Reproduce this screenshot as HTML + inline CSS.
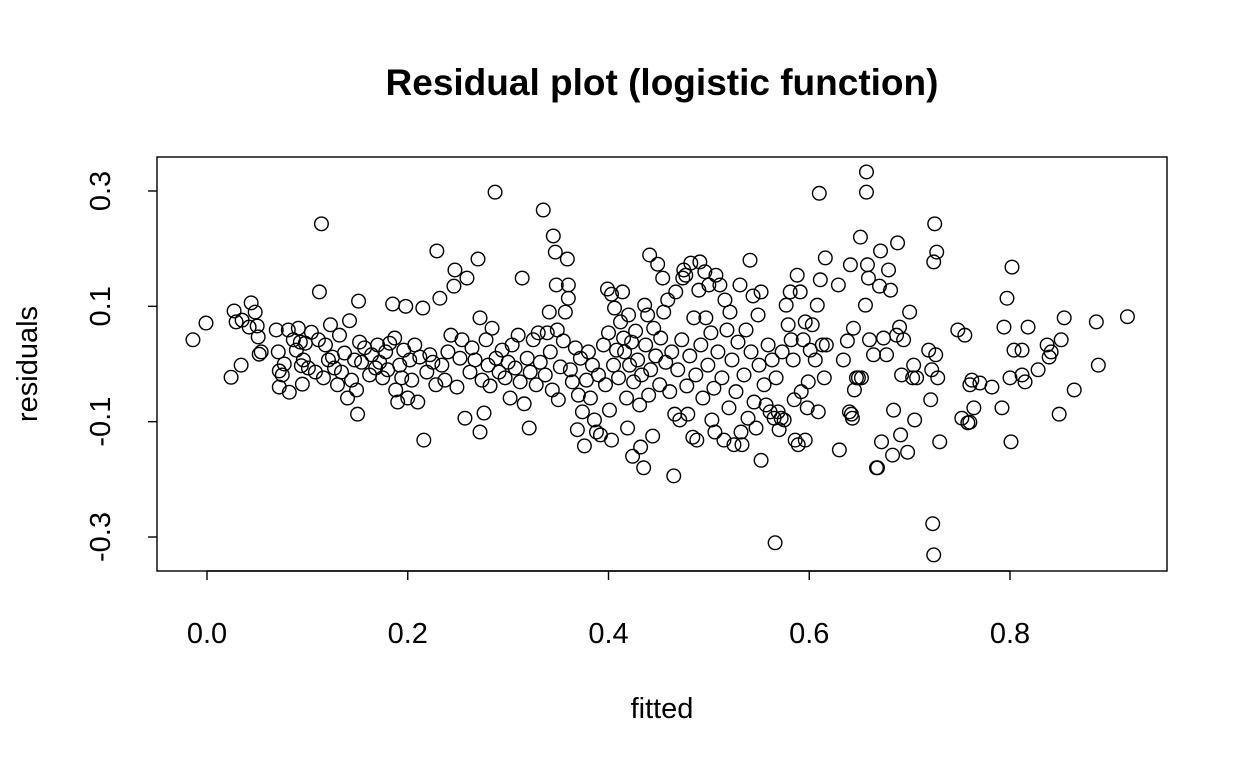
<!DOCTYPE html>
<html><head><meta charset="utf-8"><style>
html,body{margin:0;padding:0;background:#fff;}
svg{display:block;font-family:"Liberation Sans",Arial,sans-serif;}
</style></head><body>
<svg id="chart" width="1248" height="768" viewBox="0 0 1248 768" xmlns="http://www.w3.org/2000/svg">
<rect width="1248" height="768" fill="#fff"/>
<text x="662" y="95" text-anchor="middle" font-size="37" font-weight="bold">Residual plot (logistic function)</text>
<rect x="157" y="157" width="1010" height="414" fill="none" stroke="#000" stroke-width="1.4"/>
<g id="xaxis"></g>
<g id="yaxis"></g>
<text x="662" y="718" text-anchor="middle" font-size="29">fitted</text>
<text transform="translate(37,364) rotate(-90)" text-anchor="middle" font-size="29">residuals</text>
<g id="points"></g>
</svg>
<script>
const xTicks=[0.0,0.2,0.4,0.6,0.8];
const xTickLabels=["0.0","0.2","0.4","0.6","0.8"];
const yTicks=[-0.3,-0.1,0.1,0.3];
const yTickLabels=["-0.3","-0.1","0.1","0.3"];
const fitted=[-0.014,-0.001,0.024,0.027,0.029,0.034,0.035,0.044,0.048,0.042,0.050,0.051,0.052,0.054,0.069,0.071,0.072,0.072,0.075,0.077,0.081,0.082,0.086,0.089,0.091,0.093,0.094,0.095,0.096,0.098,0.101,0.104,0.108,0.111,0.112,0.114,0.116,0.118,0.121,0.123,0.125,0.127,0.130,0.132,0.134,0.137,0.140,0.142,0.144,0.147,0.149,0.150,0.151,0.152,0.154,0.157,0.162,0.164,0.168,0.170,0.172,0.175,0.178,0.180,0.182,0.185,0.187,0.188,0.190,0.192,0.194,0.196,0.198,0.200,0.202,0.204,0.207,0.210,0.212,0.215,0.216,0.219,0.222,0.225,0.228,0.229,0.232,0.234,0.237,0.240,0.243,0.246,0.247,0.249,0.252,0.254,0.257,0.259,0.262,0.264,0.267,0.270,0.272,0.272,0.274,0.276,0.278,0.280,0.282,0.284,0.287,0.288,0.291,0.294,0.297,0.300,0.302,0.304,0.307,0.310,0.312,0.314,0.316,0.319,0.321,0.322,0.325,0.328,0.330,0.332,0.335,0.337,0.339,0.341,0.342,0.344,0.345,0.347,0.348,0.349,0.350,0.352,0.355,0.357,0.359,0.360,0.360,0.362,0.364,0.367,0.369,0.370,0.372,0.374,0.376,0.378,0.380,0.382,0.384,0.386,0.388,0.390,0.392,0.395,0.397,0.399,0.400,0.401,0.403,0.403,0.405,0.406,0.408,0.410,0.412,0.414,0.415,0.416,0.418,0.419,0.420,0.421,0.423,0.424,0.425,0.427,0.429,0.431,0.432,0.433,0.435,0.436,0.437,0.439,0.440,0.441,0.442,0.444,0.445,0.447,0.449,0.451,0.452,0.454,0.455,0.457,0.459,0.461,0.463,0.465,0.466,0.467,0.469,0.471,0.473,0.474,0.475,0.477,0.478,0.479,0.481,0.482,0.484,0.485,0.487,0.488,0.490,0.491,0.492,0.494,0.496,0.497,0.499,0.500,0.502,0.503,0.505,0.506,0.507,0.509,0.511,0.513,0.515,0.516,0.518,0.520,0.521,0.523,0.525,0.527,0.529,0.531,0.532,0.533,0.535,0.537,0.539,0.541,0.542,0.544,0.545,0.547,0.549,0.550,0.552,0.552,0.555,0.557,0.559,0.561,0.563,0.565,0.566,0.567,0.569,0.570,0.572,0.573,0.575,0.577,0.579,0.581,0.582,0.584,0.585,0.586,0.588,0.589,0.591,0.592,0.594,0.596,0.596,0.598,0.599,0.601,0.603,0.606,0.608,0.609,0.610,0.611,0.613,0.615,0.616,0.617,0.629,0.630,0.634,0.638,0.640,0.641,0.642,0.643,0.644,0.645,0.647,0.649,0.651,0.652,0.656,0.657,0.657,0.658,0.659,0.660,0.664,0.667,0.668,0.670,0.671,0.672,0.674,0.677,0.679,0.681,0.683,0.684,0.687,0.688,0.690,0.691,0.692,0.694,0.698,0.700,0.703,0.704,0.705,0.707,0.719,0.721,0.722,0.723,0.724,0.724,0.725,0.726,0.727,0.728,0.730,0.748,0.752,0.755,0.758,0.760,0.760,0.762,0.764,0.770,0.782,0.792,0.794,0.797,0.800,0.801,0.802,0.804,0.812,0.812,0.815,0.818,0.828,0.837,0.839,0.841,0.851,0.849,0.854,0.864,0.886,0.888,0.917];
const residuals=[0.042,0.071,-0.023,0.092,0.073,-0.002,0.076,0.106,0.090,0.064,0.066,0.047,0.017,0.021,0.059,0.021,-0.012,-0.040,-0.019,0.0,0.059,-0.049,0.042,0.024,0.062,0.038,-0.003,-0.035,0.007,0.036,-0.007,0.055,-0.014,0.042,0.125,0.243,-0.024,0.033,0.007,0.068,0.012,-0.007,-0.036,0.050,-0.014,0.019,-0.059,0.075,-0.028,0.007,-0.045,-0.087,0.109,0.038,0.003,0.028,-0.019,0.016,-0.007,0.033,0.003,-0.024,0.021,-0.010,0.036,0.104,0.045,-0.045,-0.066,-0.002,-0.024,0.024,0.100,-0.059,0.007,-0.028,0.033,-0.066,0.012,0.097,-0.132,-0.014,0.016,0.003,-0.036,0.196,0.114,-0.002,-0.028,0.021,0.050,0.135,0.163,-0.040,0.010,0.042,-0.094,0.149,-0.014,0.028,0.007,0.182,0.080,-0.118,-0.028,-0.085,0.042,-0.002,-0.038,0.062,0.298,0.010,-0.014,0.024,-0.024,0.003,-0.059,0.033,-0.007,0.050,-0.031,0.149,-0.069,0.010,-0.111,-0.014,0.042,-0.036,0.054,0.003,0.267,-0.019,0.054,0.090,0.021,-0.045,0.222,0.194,0.137,0.059,-0.062,-0.005,0.040,0.090,0.182,0.114,0.137,-0.010,-0.031,0.028,-0.114,-0.054,0.010,-0.083,-0.142,-0.028,0.021,-0.059,-0.002,-0.097,-0.118,-0.019,-0.123,0.033,-0.036,0.130,0.054,-0.080,0.121,-0.132,-0.002,0.097,0.024,-0.024,0.073,0.125,0.045,0.021,-0.059,-0.111,0.085,-0.002,0.038,-0.160,-0.031,0.057,0.007,-0.071,-0.144,-0.019,-0.180,0.102,0.033,0.085,-0.054,0.189,-0.010,-0.125,0.062,0.014,0.173,-0.036,0.045,0.149,0.090,0.003,0.111,-0.048,0.021,-0.194,-0.087,0.125,-0.010,-0.097,0.042,0.149,0.163,0.154,-0.038,-0.087,0.014,0.175,-0.127,0.080,-0.019,-0.132,0.128,0.177,0.033,-0.059,0.160,0.080,-0.002,0.137,0.054,-0.097,-0.042,-0.118,0.154,0.021,0.137,-0.024,-0.132,0.111,0.059,-0.076,0.090,0.007,-0.140,-0.048,0.038,0.137,-0.118,-0.140,-0.019,0.059,-0.094,0.180,0.021,0.118,-0.066,-0.111,0.085,-0.002,0.125,-0.167,-0.036,-0.071,0.033,-0.083,0.007,-0.094,-0.310,-0.024,-0.083,-0.114,-0.094,0.021,-0.097,0.102,0.068,0.125,0.042,0.007,-0.062,-0.132,0.154,-0.140,0.125,-0.048,0.042,0.073,-0.132,-0.076,-0.031,0.024,0.068,0.007,0.102,-0.083,0.296,0.146,0.033,-0.024,0.184,0.033,0.137,-0.149,0.007,0.040,-0.083,0.172,-0.087,-0.094,0.062,-0.045,-0.024,-0.024,0.220,-0.024,0.102,0.333,0.298,0.172,0.149,0.042,0.016,-0.180,-0.180,0.135,0.196,-0.135,0.045,0.016,0.163,0.128,-0.158,-0.080,0.050,0.210,0.064,-0.123,-0.019,0.042,-0.153,0.090,-0.024,-0.002,-0.097,-0.024,0.024,-0.062,-0.010,-0.277,-0.331,0.177,0.243,0.016,0.194,-0.024,-0.135,0.059,-0.094,0.050,-0.102,-0.036,-0.101,-0.028,-0.076,-0.033,-0.040,-0.076,0.064,0.114,-0.024,-0.135,0.168,0.024,0.024,-0.019,-0.031,0.064,-0.010,0.033,0.012,0.021,0.042,-0.087,0.080,-0.045,0.073,-0.002,0.082];

const NS="http://www.w3.org/2000/svg";
function xScale(v){return 207+v*1003.75;}
function yScale(v){return 364-v*576.7;}
function mk(tag,attrs,parent){const e=document.createElementNS(NS,tag);for(const k in attrs)e.setAttribute(k,attrs[k]);parent.appendChild(e);return e;}
const xg=document.getElementById('xaxis');
mk('line',{x1:xScale(xTicks[0]),x2:xScale(xTicks[xTicks.length-1]),y1:571,y2:571,stroke:'#000','stroke-width':1.4},xg);
xTicks.forEach((t,i)=>{
  const l=mk('line',{x1:xScale(t),x2:xScale(t),y1:571,y2:580,stroke:'#000','stroke-width':1.4},xg);
  
  
  const tx=mk('text',{x:xScale(t),y:643,'text-anchor':'middle','font-size':29},xg);
  tx.textContent=xTickLabels[i];
  
  
});
const yg=document.getElementById('yaxis');
yTicks.forEach((t,i)=>{
  const l=mk('line',{x1:148,x2:157,y1:yScale(t),y2:yScale(t),stroke:'#000','stroke-width':1.4},yg);
  
  
  const tx=mk('text',{transform:`translate(110,${yScale(t)}) rotate(-90)`,'text-anchor':'middle','font-size':29},yg);
  tx.textContent=yTickLabels[i];
  
  
});
const pg=document.getElementById('points');
fitted.forEach((x,i)=>{
  const c=mk('circle',{cx:xScale(x),cy:yScale(residuals[i]),r:6.8,fill:'none',stroke:'#000','stroke-width':1.4},pg);
  
  
});
</script>
</body></html>
